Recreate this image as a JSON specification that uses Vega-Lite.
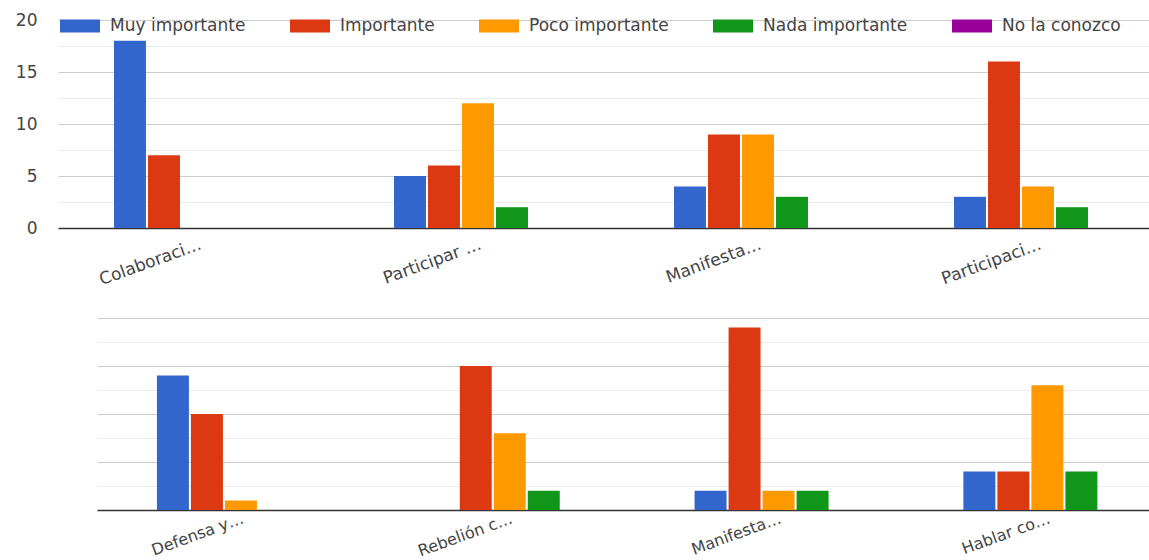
{
  "$schema": "https://vega.github.io/schema/vega-lite/v6.json",
  "background": "white",
  "padding": {"left": 0, "top": 6, "right": 0, "bottom": 0},
  "spacing": 30,
  "config": {
    "view": {"stroke": null},
    "font": "DejaVu Sans",
    "axis": {"labelColor": "#444444", "labelFont": "DejaVu Sans", "labelFontSize": 17},
    "legend": {"labelColor": "#444444", "labelFont": "DejaVu Sans", "labelFontSize": 17}
  },
  "datasets": {
    "arriba": [
      {"grupo": "Colaboraci…", "serie": "Muy importante", "valor": 18},
      {"grupo": "Colaboraci…", "serie": "Importante", "valor": 7},
      {"grupo": "Colaboraci…", "serie": "Poco importante", "valor": 0},
      {"grupo": "Colaboraci…", "serie": "Nada importante", "valor": 0},
      {"grupo": "Colaboraci…", "serie": "No la conozco", "valor": 0},
      {"grupo": "Participar …", "serie": "Muy importante", "valor": 5},
      {"grupo": "Participar …", "serie": "Importante", "valor": 6},
      {"grupo": "Participar …", "serie": "Poco importante", "valor": 12},
      {"grupo": "Participar …", "serie": "Nada importante", "valor": 2},
      {"grupo": "Participar …", "serie": "No la conozco", "valor": 0},
      {"grupo": "Manifesta…", "serie": "Muy importante", "valor": 4},
      {"grupo": "Manifesta…", "serie": "Importante", "valor": 9},
      {"grupo": "Manifesta…", "serie": "Poco importante", "valor": 9},
      {"grupo": "Manifesta…", "serie": "Nada importante", "valor": 3},
      {"grupo": "Manifesta…", "serie": "No la conozco", "valor": 0},
      {"grupo": "Participaci…", "serie": "Muy importante", "valor": 3},
      {"grupo": "Participaci…", "serie": "Importante", "valor": 16},
      {"grupo": "Participaci…", "serie": "Poco importante", "valor": 4},
      {"grupo": "Participaci…", "serie": "Nada importante", "valor": 2},
      {"grupo": "Participaci…", "serie": "No la conozco", "valor": 0}
    ],
    "abajo": [
      {"grupo": "Defensa y…", "serie": "Muy importante", "valor": 14},
      {"grupo": "Defensa y…", "serie": "Importante", "valor": 10},
      {"grupo": "Defensa y…", "serie": "Poco importante", "valor": 1},
      {"grupo": "Defensa y…", "serie": "Nada importante", "valor": 0},
      {"grupo": "Defensa y…", "serie": "No la conozco", "valor": 0},
      {"grupo": "Rebelión c…", "serie": "Muy importante", "valor": 0},
      {"grupo": "Rebelión c…", "serie": "Importante", "valor": 15},
      {"grupo": "Rebelión c…", "serie": "Poco importante", "valor": 8},
      {"grupo": "Rebelión c…", "serie": "Nada importante", "valor": 2},
      {"grupo": "Rebelión c…", "serie": "No la conozco", "valor": 0},
      {"grupo": "Manifesta…", "serie": "Muy importante", "valor": 2},
      {"grupo": "Manifesta…", "serie": "Importante", "valor": 19},
      {"grupo": "Manifesta…", "serie": "Poco importante", "valor": 2},
      {"grupo": "Manifesta…", "serie": "Nada importante", "valor": 2},
      {"grupo": "Manifesta…", "serie": "No la conozco", "valor": 0},
      {"grupo": "Hablar co…", "serie": "Muy importante", "valor": 4},
      {"grupo": "Hablar co…", "serie": "Importante", "valor": 4},
      {"grupo": "Hablar co…", "serie": "Poco importante", "valor": 13},
      {"grupo": "Hablar co…", "serie": "Nada importante", "valor": 4},
      {"grupo": "Hablar co…", "serie": "No la conozco", "valor": 0}
    ]
  },
  "resolve": {"legend": {"color": "independent"}},
  "vconcat": [
    {
      "width": 1052,
      "height": 208,
      "data": {"name": "arriba"},
      "mark": {"type": "bar"},
      "encoding": {
        "x": {
          "field": "grupo", "type": "nominal", "sort": null, "title": null,
          "scale": {"range": [-39, 1081], "paddingInner": 0.4, "paddingOuter": 0.2},
          "axis": {
            "domain": true, "domainColor": "#333333", "domainWidth": 1.5,
            "ticks": false, "labelAngle": -20, "labelPadding": 8
          }
        },
        "xOffset": {
          "field": "serie", "type": "nominal",
          "sort": ["Muy importante", "Importante", "Poco importante", "Nada importante", "No la conozco"],
          "scale": {"paddingInner": 0.06}
        },
        "y": {
          "field": "valor", "type": "quantitative", "title": null,
          "scale": {"domain": [0, 20], "nice": false},
          "axis": {
            "values": [0, 2.5, 5, 7.5, 10, 12.5, 15, 17.5, 20],
            "labelExpr": "datum.value % 5 === 0 ? datum.label : ''",
            "domain": false, "ticks": false, "labelPadding": 60,
            "minExtent": 97, "maxExtent": 97,
            "gridColor": {"condition": {"test": "datum.value % 5 === 0", "value": "#cccccc"}, "value": "#ebebeb"}
          }
        },
        "color": {
          "field": "serie", "type": "nominal",
          "sort": ["Muy importante", "Importante", "Poco importante", "Nada importante", "No la conozco"],
          "scale": {
            "domain": ["Muy importante", "Importante", "Poco importante", "Nada importante", "No la conozco"],
            "range": ["#3366cc", "#dc3912", "#ff9900", "#109618", "#990099"]
          },
          "legend": {
            "orient": "none", "legendX": -37, "legendY": -14, "direction": "horizontal",
            "title": null, "symbolType": "M-1,-0.325H1V0.325H-1Z", "symbolSize": 1600,
            "symbolStrokeWidth": 0, "symbolOpacity": 1, "labelOffset": 10, "columnPadding": 44
          }
        }
      }
    },
    {
      "width": 1052,
      "height": 192,
      "data": {"name": "abajo"},
      "mark": {"type": "bar"},
      "encoding": {
        "x": {
          "field": "grupo", "type": "nominal", "sort": null, "title": null,
          "scale": {"range": [0, 1093], "paddingInner": 0.38, "paddingOuter": 0.223},
          "axis": {
            "domain": true, "domainColor": "#333333", "domainWidth": 1.5,
            "ticks": false, "labelAngle": -20, "labelPadding": 0, "labelFontSize": 16
          }
        },
        "xOffset": {
          "field": "serie", "type": "nominal",
          "sort": ["Muy importante", "Importante", "Poco importante", "Nada importante", "No la conozco"],
          "scale": {"paddingInner": 0.06}
        },
        "y": {
          "field": "valor", "type": "quantitative", "title": null,
          "scale": {"domain": [0, 20], "nice": false},
          "axis": {
            "values": [0, 2.5, 5, 7.5, 10, 12.5, 15, 17.5, 20],
            "labels": false, "domain": false, "ticks": false,
            "minExtent": 97, "maxExtent": 97,
            "gridColor": {"condition": {"test": "datum.value % 5 === 0", "value": "#cccccc"}, "value": "#ebebeb"}
          }
        },
        "color": {
          "field": "serie", "type": "nominal",
          "sort": ["Muy importante", "Importante", "Poco importante", "Nada importante", "No la conozco"],
          "scale": {
            "domain": ["Muy importante", "Importante", "Poco importante", "Nada importante", "No la conozco"],
            "range": ["#3366cc", "#dc3912", "#ff9900", "#109618", "#990099"]
          },
          "legend": null
        }
      }
    }
  ]
}
